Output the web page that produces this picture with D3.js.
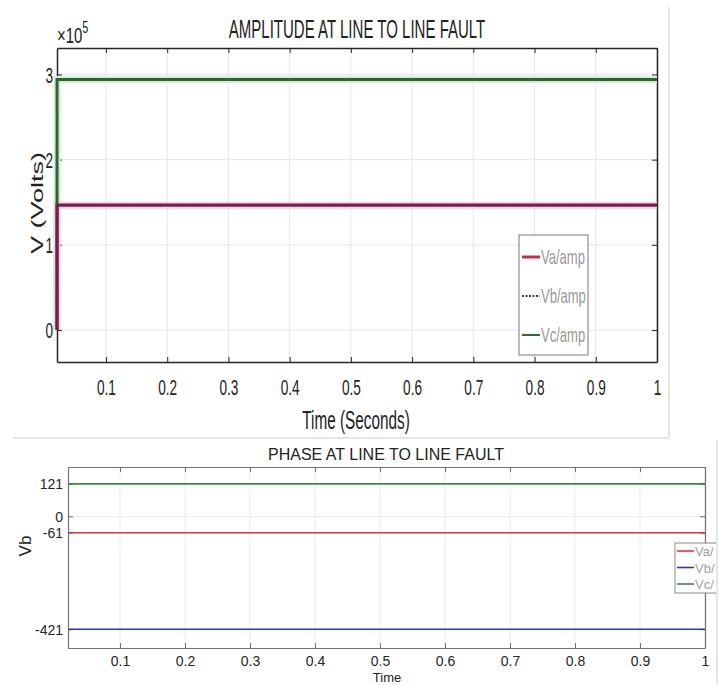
<!DOCTYPE html>
<html>
<head>
<meta charset="utf-8">
<script src="https://cdn.jsdelivr.net/npm/d3@7"></script>
<style>
  body { margin: 0; background: #fff; }
  svg { font-family: "Liberation Sans", Arial, sans-serif; }
</style>
</head>
<body>
<svg></svg>
<script>
// ---- amplitude panel data ----
const timeAmp = [0.02, 0.0201, 1];
const vaAmp = [0, 1.465e5, 1.465e5];
const vbAmp = [0, 1.465e5, 1.465e5];
const vcAmp = [0, 2.94e5, 2.94e5];
const ampTicksX = [0.1, 0.2, 0.3, 0.4, 0.5, 0.6, 0.7, 0.8, 0.9, 1];
const ampTicksY = [0, 1e5, 2e5, 3e5];
const ampLegend = ["Va/amp", "Vb/amp", "Vc/amp"];

// ---- phase panel data ----
const timePhase = [0.02, 1];
const vaPhase = [-61, -61];
const vbPhase = [-421, -421];
const vcPhase = [121, 121];
const phaseTicksX = [0.1, 0.2, 0.3, 0.4, 0.5, 0.6, 0.7, 0.8, 0.9, 1];
const phaseTicksY = [-421, -61, 0, 121];
const phaseLegend = ["Va/", "Vb/", "Vc/"];

const W = 724, H = 685;
const svg = d3.select("svg").attr("width", W).attr("height", H);

// squished text, the top picture is compressed horizontally
const SX = 0.62;
function sText(parent, x, y, str, size, anchor, sx, rot) {
  const g = parent.append("g")
    .attr("transform", `translate(${x},${y}) scale(${sx},1)` + (rot ? ` rotate(${rot})` : ""));
  return g.append("text")
    .attr("text-anchor", anchor)
    .style("font-size", size + "px")
    .attr("fill", "#222")
    .text(str);
}

// frames of the two screenshots
svg.append("line").attr("x1", 669).attr("x2", 669).attr("y1", 7).attr("y2", 438)
  .attr("stroke", "#e6e6e6").attr("stroke-width", 2);
svg.append("line").attr("x1", 13).attr("x2", 669).attr("y1", 438).attr("y2", 438)
  .attr("stroke", "#e6e6e6").attr("stroke-width", 2);
svg.append("line").attr("x1", 717).attr("x2", 717).attr("y1", 440).attr("y2", H)
  .attr("stroke", "#e6e6e6").attr("stroke-width", 2);

// ================= AMPLITUDE =================
const A = { l: 57, r: 657, t: 48, b: 362 };
const xA = d3.scaleLinear().domain([0.02, 1]).range([A.l, A.r]);
const yA = d3.scaleLinear().domain([-0.375e5, 3.31e5]).range([A.b, A.t]);
const gA = svg.append("g");

// grid
gA.append("g").selectAll("line").data(ampTicksX).join("line")
  .attr("x1", d => xA(d)).attr("x2", d => xA(d)).attr("y1", A.t).attr("y2", A.b)
  .attr("stroke", "#e6e6e6");
gA.append("g").selectAll("line").data(ampTicksY).join("line")
  .attr("x1", A.l).attr("x2", A.r).attr("y1", d => yA(d)).attr("y2", d => yA(d))
  .attr("stroke", "#e6e6e6");

// axes
const axBA = gA.append("g").attr("transform", `translate(0,${A.b})`)
  .call(d3.axisBottom(xA).tickValues(ampTicksX).tickSizeInner(-5).tickSizeOuter(0).tickFormat(d3.format("~g")));
const axTA = gA.append("g").attr("transform", `translate(0,${A.t})`)
  .call(d3.axisTop(xA).tickValues(ampTicksX).tickSizeInner(-5).tickSizeOuter(0).tickFormat(""));
const axLA = gA.append("g").attr("transform", `translate(${A.l},0)`)
  .call(d3.axisLeft(yA).tickValues(ampTicksY).tickSizeInner(-5).tickSizeOuter(0).tickFormat(d => d / 1e5));
const axRA = gA.append("g").attr("transform", `translate(${A.r},0)`)
  .call(d3.axisRight(yA).tickValues(ampTicksY).tickSizeInner(-5).tickSizeOuter(0).tickFormat(""));
[axBA, axTA, axLA, axRA].forEach(a => {
  a.select(".domain").attr("stroke", "#262626").attr("stroke-width", 1.5);
  a.selectAll(".tick line").attr("stroke", "#262626");
});
axBA.selectAll("text")
  .attr("y", 0).attr("dy", 0)
  .attr("transform", `translate(0,33) scale(${SX},1)`)
  .style("font-size", "22px").attr("fill", "#222")
  .style("font-family", "'Liberation Sans', Arial, sans-serif");
axLA.selectAll("text")
  .attr("x", 0).attr("dy", "0.36em")
  .attr("transform", `translate(-4,0) scale(${SX},1)`)
  .style("font-size", "22px").attr("fill", "#222")
  .style("font-family", "'Liberation Sans', Arial, sans-serif");

// lines
const lineA = (vals) => d3.line().x((d, i) => xA(timeAmp[i])).y(d => yA(d))(vals);
gA.append("path").attr("d", lineA(vcAmp)).attr("fill", "none")
  .attr("stroke", "#d6ecd6").attr("stroke-width", 7);
gA.append("path").attr("d", lineA(vaAmp)).attr("fill", "none")
  .attr("stroke", "#efd3e1").attr("stroke-width", 7);
gA.append("path").attr("d", lineA(vcAmp)).attr("fill", "none")
  .attr("stroke", "#2f6534").attr("stroke-width", 3);
gA.append("path").attr("d", lineA(vaAmp)).attr("fill", "none")
  .attr("stroke", "#8a1f4c").attr("stroke-width", 3.2);
gA.append("path").attr("d", lineA(vbAmp)).attr("fill", "none")
  .attr("stroke", "#4a2462").attr("stroke-width", 1.6).attr("stroke-dasharray", "2,1.5");

// titles
sText(gA, 357, 38, "AMPLITUDE AT LINE TO LINE FAULT", 25, "middle", SX * 0.97);
sText(gA, 356, 429, "Time (Seconds)", 26, "middle", SX * 0.95);
sText(gA, 43, 203, "V (Volts)", 27, "middle", SX, -90);
const mult = sText(gA, 57, 43, "", 22, "start", 0.68);
mult.append("tspan").text("\u00d710");
mult.append("tspan").attr("dy", -10).style("font-size", "16px").text("5");

// legend
const legA = gA.append("g");
legA.append("rect").attr("x", 519).attr("y", 235).attr("width", 69).attr("height", 120)
  .attr("fill", "#fff").attr("stroke", "#777").attr("stroke-width", 1);
const legColA = ["#c0304a", "#3a3a8a", "#2f6b34"];
const legYA = d3.scalePoint().domain(ampLegend).range([257, 335]);
ampLegend.forEach((name, i) => {
  legA.append("line").attr("x1", 522).attr("x2", 540)
    .attr("y1", legYA(name)).attr("y2", legYA(name))
    .attr("stroke", legColA[i]).attr("stroke-width", i === 0 ? 3 : 2)
    .attr("stroke-dasharray", i === 1 ? "2,1.5" : null);
  sText(legA, 541, legYA(name) + 7, name, 21, "start", SX).attr("fill", "#999");
});

// ================= PHASE =================
const P = { l: 68, r: 705, t: 467, b: 648 };
const xP = d3.scaleLinear().domain([0.02, 1]).range([P.l, P.r]);
const yP = d3.scaleLinear().domain([-491, 184]).range([P.b, P.t]);
const gP = svg.append("g");

gP.append("g").selectAll("line").data(phaseTicksX).join("line")
  .attr("x1", d => xP(d)).attr("x2", d => xP(d)).attr("y1", P.t).attr("y2", P.b)
  .attr("stroke", "#ebebeb");
gP.append("g").selectAll("line").data(phaseTicksY).join("line")
  .attr("x1", P.l).attr("x2", P.r).attr("y1", d => yP(d)).attr("y2", d => yP(d))
  .attr("stroke", "#ebebeb");

const axBP = gP.append("g").attr("transform", `translate(0,${P.b})`)
  .call(d3.axisBottom(xP).tickValues(phaseTicksX).tickSizeInner(-5).tickSizeOuter(0).tickFormat(d3.format("~g")));
const axTP = gP.append("g").attr("transform", `translate(0,${P.t})`)
  .call(d3.axisTop(xP).tickValues(phaseTicksX).tickSizeInner(-5).tickSizeOuter(0).tickFormat(""));
const axLP = gP.append("g").attr("transform", `translate(${P.l},0)`)
  .call(d3.axisLeft(yP).tickValues(phaseTicksY).tickSizeInner(-5).tickSizeOuter(0).tickFormat(d => String(d)));
const axRP = gP.append("g").attr("transform", `translate(${P.r},0)`)
  .call(d3.axisRight(yP).tickValues(phaseTicksY).tickSizeInner(-5).tickSizeOuter(0).tickFormat(""));
[axBP, axTP, axLP, axRP].forEach(a => {
  a.select(".domain").attr("stroke", "#707070").attr("stroke-width", 1.2);
  a.selectAll(".tick line").attr("stroke", "#707070");
});
axBP.selectAll("text").attr("y", 18).attr("dy", 0)
  .style("font-size", "14px").attr("fill", "#262626")
  .style("font-family", "'Liberation Sans', Arial, sans-serif");
axLP.selectAll("text").attr("x", -5).attr("dy", "0.35em")
  .style("font-size", "14px").attr("fill", "#262626")
  .style("font-family", "'Liberation Sans', Arial, sans-serif");

const lineP = (vals) => d3.line().x((d, i) => xP(timePhase[i])).y(d => yP(d))(vals);
const colP = ["#e0353a", "#2f3aa0", "#3d8a45"];
[vaPhase, vbPhase, vcPhase].forEach((vals, i) => {
  gP.append("path").attr("d", lineP(vals)).attr("fill", "none")
    .attr("stroke", colP[i]).attr("stroke-width", 1.6);
});

sText(gP, 386, 460, "PHASE AT LINE TO LINE FAULT", 16, "middle", 1);
sText(gP, 387, 682, "Time", 13, "middle", 1);
sText(gP, 31, 546, "Vb", 17, "middle", 1, -90);

// legend, clipped by the screenshot edge
svg.append("clipPath").attr("id", "clipP").append("rect")
  .attr("x", 0).attr("y", 440).attr("width", 716).attr("height", 245);
const legP = gP.append("g").attr("clip-path", "url(#clipP)");
legP.append("rect").attr("x", 675).attr("y", 543).attr("width", 60).attr("height", 50)
  .attr("fill", "#fff").attr("stroke", "#888").attr("stroke-width", 1);
const legYP = d3.scalePoint().domain(phaseLegend).range([551, 584]);
phaseLegend.forEach((name, i) => {
  legP.append("line").attr("x1", 677).attr("x2", 694)
    .attr("y1", legYP(name)).attr("y2", legYP(name))
    .attr("stroke", colP[i]).attr("stroke-width", 1.6);
  sText(legP, 695, legYP(name) + 5, name, 13, "start", 1).attr("fill", "#a0a0a0");
});
</script>
</body>
</html>
